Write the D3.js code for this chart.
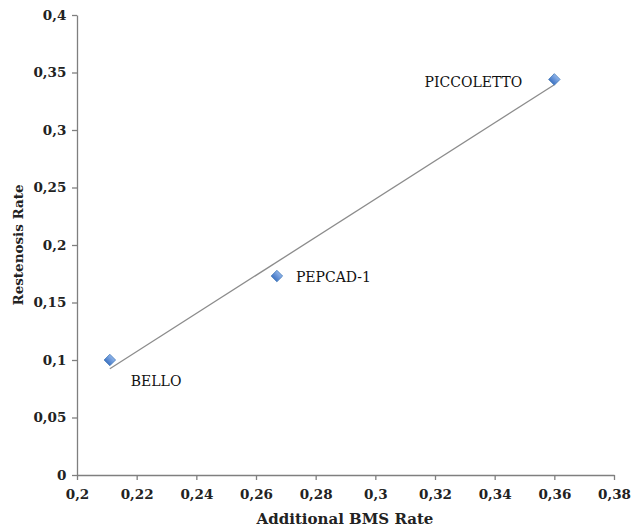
<!DOCTYPE html>
<html><head><meta charset="utf-8">
<script src="https://cdn.jsdelivr.net/npm/d3@7"></script>
<style>body{margin:0;background:#fff}</style>
</head><body>
<svg id="c" width="632" height="530"></svg>
<script>
const studies = ["BELLO", "PEPCAD-1", "PICCOLETTO"];
const bmsRate = [0.211, 0.267, 0.36];
const restenosisRate = [0.1, 0.173, 0.344];
const xTicks = [0.2,0.22,0.24,0.26,0.28,0.3,0.32,0.34,0.36,0.38];
const yTicks = [0,0.05,0.1,0.15,0.2,0.25,0.3,0.35,0.4];

const svg = d3.select("#c");
const x = d3.scaleLinear().domain([0.2,0.38]).range([77,614]);
const y = d3.scaleLinear().domain([0,0.4]).range([475,15]);
const fmt = d => String(+d.toFixed(2)).replace(".", ",");
const font = "'DejaVu Serif', serif";

const xa = svg.append("g").attr("transform","translate(0,475)")
  .call(d3.axisBottom(x).tickValues(xTicks).tickFormat(fmt).tickSize(5).tickSizeOuter(0));
const ya = svg.append("g").attr("transform","translate(77,0)")
  .call(d3.axisLeft(y).tickValues(yTicks).tickFormat(fmt).tickSize(5).tickSizeOuter(0));
[xa, ya].forEach(a => {
  a.selectAll("path,line").attr("stroke","#7f7f7f").attr("stroke-width",1.3);
  a.selectAll("text").attr("font-family",font).attr("font-size","13.5px").attr("font-weight","bold").attr("fill","#222");
});
xa.selectAll("text").attr("dy","1.2em");
ya.selectAll("text").attr("dx","-0.2em");

// trendline (least squares)
const n = bmsRate.length;
const mx = d3.mean(bmsRate), my = d3.mean(restenosisRate);
let sxy = 0, sxx = 0;
for (let i=0;i<n;i++){ sxy += (bmsRate[i]-mx)*(restenosisRate[i]-my); sxx += (bmsRate[i]-mx)**2; }
const slope = sxy/sxx, icpt = my - slope*mx;
const x0 = d3.min(bmsRate), x1 = d3.max(bmsRate);
svg.append("line")
  .attr("x1",x(x0)).attr("y1",y(icpt+slope*x0))
  .attr("x2",x(x1)).attr("y2",y(icpt+slope*x1))
  .attr("stroke","#8c8c8c").attr("stroke-width",1.3);

const defs = svg.append("defs");
const g = defs.append("linearGradient").attr("id","dg").attr("x1","0").attr("y1","0").attr("x2","0").attr("y2","1");
g.append("stop").attr("offset","0").attr("stop-color","#8fb4ea");
g.append("stop").attr("offset","1").attr("stop-color","#3f74c4");

const pts = studies.map((s,i)=>({s, x:bmsRate[i], y:restenosisRate[i]}));
svg.selectAll("path.pt").data(pts).enter().append("path")
  .attr("class","pt")
  .attr("d", d3.symbol().type(d3.symbolSquare).size(66))
  .attr("transform", d => `translate(${x(d.x)},${y(d.y)}) rotate(45)`)
  .attr("fill","url(#dg)").attr("stroke","#4a7ebb").attr("stroke-width",0.8);

const labelPos = {"BELLO":[21,26,"start"], "PEPCAD-1":[19,6,"start"], "PICCOLETTO":[-32,8,"end"]};
svg.selectAll("text.lbl").data(pts).enter().append("text")
  .attr("class","lbl")
  .attr("x", d => x(d.x)+labelPos[d.s][0])
  .attr("y", d => y(d.y)+labelPos[d.s][1])
  .attr("text-anchor", d => labelPos[d.s][2])
  .attr("font-family",font).attr("font-size","14px").attr("fill","#111")
  .text(d => d.s);

svg.append("text").attr("x",345).attr("y",524).attr("text-anchor","middle")
  .attr("font-family",font).attr("font-size","15px").attr("font-weight","bold").attr("fill","#222")
  .text("Additional BMS Rate");
svg.append("text").attr("transform","translate(23,245) rotate(-90)").attr("text-anchor","middle")
  .attr("font-family",font).attr("font-size","13.5px").attr("font-weight","bold").attr("fill","#222")
  .text("Restenosis Rate");
</script>
</body></html>
